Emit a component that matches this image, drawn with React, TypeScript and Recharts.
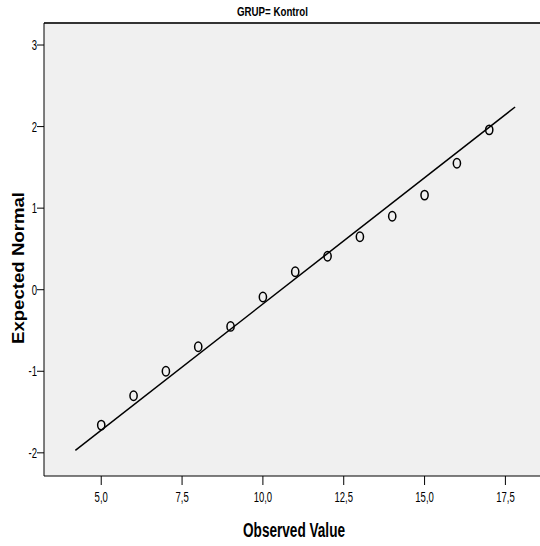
import { ComposedChart, Scatter, XAxis, YAxis, CartesianGrid, ReferenceLine } from "recharts";

const observed = [5, 6, 7, 8, 9, 10, 11, 12, 13, 14, 15, 16, 17];
const expectedNormal = [-1.66, -1.3, -1.0, -0.7, -0.45, -0.09, 0.22, 0.41, 0.65, 0.9, 1.16, 1.55, 1.96];
const fitLineX = [4.2, 17.8];
const fitLineY = [-1.97, 2.24];
const xTicks = [5, 7.5, 10, 12.5, 15, 17.5];
const yTicks = [-2, -1, 0, 1, 2, 3];

const points = observed.map((x, i) => ({ x, y: expectedNormal[i] }));
const fitSegment = fitLineX.map((x, i) => ({ x, y: fitLineY[i] }));

const sans = "'Liberation Sans', Arial, sans-serif";
const xDomain = [3.23, 18.57];
const yDomain = [-2.284, 3.27];

// condensed look: the original uses a narrow font, squeeze Liberation Sans horizontally
const XTick = (props: any) => {
  const { x, y, payload } = props;
  return (
    <g transform={`translate(${x},${y}) scale(0.68,1)`}>
      <text x={0} y={0} dy="0.71em" textAnchor="middle" fontFamily={sans} fontSize={14} fill="#000">
        {Number(payload.value).toFixed(1).replace(".", ",")}
      </text>
    </g>
  );
};

const YTick = (props: any) => {
  const { x, y, payload } = props;
  return (
    <g transform={`translate(${x},${y}) scale(0.68,1)`}>
      <text x={0} y={0} dy="0.355em" textAnchor="end" fontFamily={sans} fontSize={14} fill="#000">
        {payload.value}
      </text>
    </g>
  );
};

const Ring = (props: any) => {
  const { cx, cy } = props;
  if (cx == null || cy == null) return null;
  return <ellipse cx={cx} cy={cy} rx={3.6} ry={4.7} fill="none" stroke="#000" strokeWidth={1.5} />;
};

export default function App() {
  return (
    <div style={{ position: "absolute", left: 0, top: 0, width: 540, height: 546, background: "#fff" }}>
      <svg width={540} height={546} style={{ position: "absolute", left: 0, top: 0 }}>
        <text
          x={272.5}
          y={16}
          textAnchor="middle"
          textLength={71}
          lengthAdjust="spacingAndGlyphs"
          fontFamily={sans}
          fontWeight="bold"
          fontSize={12}
          fill="#000"
        >
          GRUP= Kontrol
        </text>
        <text
          x={294}
          y={537}
          textAnchor="middle"
          textLength={102}
          lengthAdjust="spacingAndGlyphs"
          fontFamily={sans}
          fontWeight="bold"
          fontSize={20}
          fill="#000"
        >
          Observed Value
        </text>
        <text
          x={18}
          y={268}
          transform="rotate(-90 18 268)"
          textAnchor="middle"
          dominantBaseline="central"
          textLength={152}
          lengthAdjust="spacingAndGlyphs"
          fontFamily={sans}
          fontWeight="bold"
          fontSize={16}
          fill="#000"
        >
          Expected Normal
        </text>
      </svg>
      <div style={{ position: "absolute", left: 0, top: 0 }}>
        <ComposedChart width={540} height={546} margin={{ top: 23, right: 0, left: 0, bottom: 0 }}>
          <CartesianGrid fill="#f0f0f0" horizontal={false} vertical={false} />
          <XAxis
            type="number"
            dataKey="x"
            domain={xDomain}
            ticks={xTicks}
            allowDataOverflow
            height={70}
            tickSize={9}
            tickMargin={7}
            stroke="#000"
            tick={<XTick />}
          />
          <YAxis
            type="number"
            dataKey="y"
            domain={yDomain}
            ticks={yTicks}
            allowDataOverflow
            width={44}
            tickSize={7}
            tickMargin={0}
            stroke="#000"
            tick={<YTick />}
          />
          <ReferenceLine y={yDomain[1]} stroke="#333" strokeWidth={2} />
          <ReferenceLine segment={fitSegment} stroke="#000" strokeWidth={1.5} />
          <Scatter data={points} shape={Ring} isAnimationActive={false} />
        </ComposedChart>
      </div>
    </div>
  );
}
